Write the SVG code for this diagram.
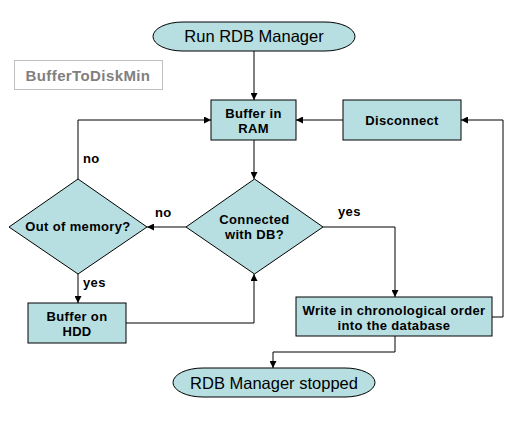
<svg xmlns="http://www.w3.org/2000/svg" width="521" height="446" viewBox="0 0 521 446">
<defs>
<style>
.shape{fill:#b7dfe1;stroke:#000;stroke-width:1}
.t{font-family:"Liberation Sans",Arial,sans-serif;font-weight:bold;font-size:13px;letter-spacing:0.35px;fill:#000;text-anchor:middle}
.big{font-family:"Liberation Sans",Arial,sans-serif;font-size:16.5px;fill:#000;text-anchor:middle}
.lbl{font-family:"Liberation Sans",Arial,sans-serif;font-weight:bold;font-size:13px;letter-spacing:0.35px;fill:#000}
.c{fill:none;stroke:#000;stroke-width:1}
</style>
<marker id="ah" viewBox="0 0 8 8" refX="8" refY="4" markerWidth="7" markerHeight="7" markerUnits="userSpaceOnUse" orient="auto">
<path d="M0,0 L8,4 L0,8 z" fill="#000"/>
</marker>
<marker id="ahg" viewBox="0 0 8 8" refX="8" refY="4" markerWidth="7" markerHeight="7" markerUnits="userSpaceOnUse" orient="auto">
<path d="M0,0 L8,4 L0,8 z" fill="#000"/>
</marker>
</defs>
<rect width="521" height="446" fill="#fff"/>

<g id="connectors">
<path class="c" d="M254,51 V100" marker-end="url(#ah)"/>
<path class="c" d="M343,120 H296" marker-end="url(#ah)"/>
<path class="c" d="M254,140 V179" marker-end="url(#ah)"/>
<path d="M186,227 H147" fill="none" stroke="#808080" stroke-width="2" marker-end="url(#ahg)"/>
<path class="c" d="M78,179 V120 H211" marker-end="url(#ah)"/>
<path class="c" d="M78,274 V303" marker-end="url(#ah)"/>
<path class="c" d="M126,323 H254 V274" marker-end="url(#ah)"/>
<path class="c" d="M323,227 H395 V297" marker-end="url(#ah)"/>
<path class="c" d="M492,317 H503 V120 H461" marker-end="url(#ah)"/>
<path class="c" d="M395,336 V352 H273 V368" marker-end="url(#ah)"/>
<text class="lbl" x="83" y="163">no</text>
<text class="lbl" x="155" y="217">no</text>
<text class="lbl" x="338" y="216">yes</text>
<text class="lbl" x="83" y="287">yes</text>
</g>

<g id="start">
<rect class="shape" x="153" y="22" width="202" height="29" rx="30" ry="14.5"/>
<text class="big" x="254" y="42">Run RDB Manager</text>
</g>

<g id="buffertodiskmin">
<rect x="14.5" y="60.5" width="148" height="29" fill="#fff" stroke="#c0c0c0" stroke-width="1"/>
<text x="88" y="81" font-family="Liberation Sans, Arial, sans-serif" font-weight="bold" font-size="15px" letter-spacing="0.4" fill="#808080" text-anchor="middle">BufferToDiskMin</text>
</g>

<g id="buffer-ram">
<rect class="shape" x="211" y="100" width="85" height="40"/>
<text class="t" x="253.5" y="118">Buffer in</text>
<text class="t" x="253.5" y="133">RAM</text>
</g>

<g id="disconnect">
<rect class="shape" x="343" y="100" width="118" height="40"/>
<text class="t" x="402" y="125">Disconnect</text>
</g>

<g id="out-of-memory">
<polygon class="shape" points="78,179 147,227 78,274 9,227"/>
<text class="t" x="78" y="231">Out of memory?</text>
</g>

<g id="connected">
<polygon class="shape" points="254.5,179 323,227 254.5,274 186,227"/>
<text class="t" x="254.5" y="224">Connected</text>
<text class="t" x="254.5" y="239">with DB?</text>
</g>

<g id="buffer-hdd">
<rect class="shape" x="28" y="303" width="98" height="40"/>
<text class="t" x="77" y="321">Buffer on</text>
<text class="t" x="77" y="336">HDD</text>
</g>

<g id="write">
<rect class="shape" x="296" y="297" width="196" height="39"/>
<text class="t" x="394" y="315">Write in chronological order</text>
<text class="t" x="394" y="330">into the database</text>
</g>

<g id="stopped">
<rect class="shape" x="173" y="368" width="202" height="29" rx="30" ry="14.5"/>
<text class="big" x="274" y="389">RDB Manager stopped</text>
</g>
</svg>
